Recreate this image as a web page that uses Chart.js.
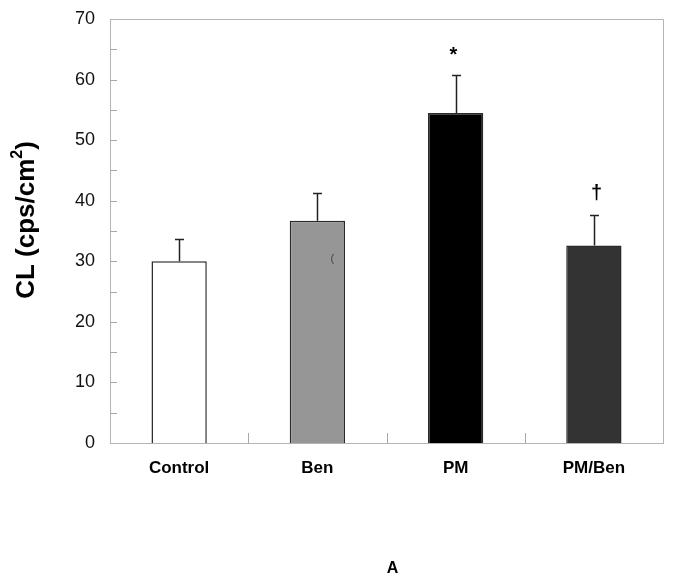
<!DOCTYPE html>
<html>
<head>
<meta charset="utf-8">
<script src="https://cdn.jsdelivr.net/npm/chart.js@4/dist/chart.umd.min.js"></script>
<style>
html,body{margin:0;padding:0;background:#fff;}
#wrap{width:673px;height:585px;position:relative;}
</style>
</head>
<body>
<div id="wrap"><canvas id="c" width="673" height="585"></canvas></div>
<script>
const categories = ['Control', 'Ben', 'PM', 'PM/Ben'];
const means = [30.0, 36.7, 54.5, 32.6];
const errors = [3.6, 4.5, 6.2, 5.1];
const marks = ['', '', '*', '†'];
const barColors = ['#ffffff', '#969696', '#000000', '#333333'];
const yTickValues = [0, 10, 20, 30, 40, 50, 60, 70];
const yTitleMain = 'CL (cps/cm';
const yTitleSup = '2';
const yTitleEnd = ')';
const panelLabel = 'A';
const FONT = '"Liberation Sans", Arial, sans-serif';

const decor = {
  id: 'decor',
  afterDatasetsDraw(chart) {
    const ctx = chart.ctx;
    const x = chart.scales.x, y = chart.scales.y;
    const a = chart.chartArea;
    ctx.save();
    // frame top / right
    ctx.strokeStyle = '#b4b4b4';
    ctx.lineWidth = 1;
    ctx.beginPath();
    ctx.moveTo(a.left, a.top + 0.5); ctx.lineTo(a.right + 0.5, a.top + 0.5);
    ctx.lineTo(a.right + 0.5, a.bottom);
    ctx.stroke();
    // minor/major y ticks inside
    ctx.strokeStyle = '#a8a8a8';
    for (let v = 5; v < 70; v += 5) {
      const py = Math.round(y.getPixelForValue(v)) + 0.5;
      ctx.beginPath(); ctx.moveTo(a.left, py); ctx.lineTo(a.left + 7, py); ctx.stroke();
    }
    // category dividers on x axis
    for (let i = 1; i < categories.length; i++) {
      const px = Math.round((x.getPixelForValue(i - 1) + x.getPixelForValue(i)) / 2) + 0.5;
      ctx.beginPath(); ctx.moveTo(px, a.bottom); ctx.lineTo(px, a.bottom - 10); ctx.stroke();
    }
    // error bars
    ctx.strokeStyle = '#222';
    ctx.lineWidth = 1.5;
    for (let i = 0; i < categories.length; i++) {
      const px = Math.round(x.getPixelForValue(i)) + 0.5;
      const y0 = y.getPixelForValue(means[i]);
      const y1 = Math.round(y.getPixelForValue(means[i] + errors[i])) + 0.5;
      ctx.beginPath();
      ctx.moveTo(px, y0); ctx.lineTo(px, y1);
      ctx.moveTo(px - 4.5, y1); ctx.lineTo(px + 4.5, y1);
      ctx.stroke();
      if (marks[i]) {
        ctx.fillStyle = '#000';
        ctx.font = 'bold 20px ' + FONT;
        ctx.textAlign = 'center';
        ctx.textBaseline = 'middle';
        const off = marks[i] === '*' ? 20 : 22;
        ctx.fillText(marks[i], px - (marks[i] === '*' ? 3 : -2), y1 - off);
      }
    }
    // small stray mark inside Ben bar
    ctx.fillStyle = '#444';
    ctx.font = '11px ' + FONT;
    ctx.textAlign = 'center';
    ctx.textBaseline = 'middle';
    ctx.fillText('(', x.getPixelForValue(1) + 15, y.getPixelForValue(30.4));
    // y axis title, rotated, with superscript
    ctx.save();
    ctx.translate(27, 220);
    ctx.rotate(-Math.PI / 2);
    ctx.fillStyle = '#000';
    ctx.textBaseline = 'middle';
    ctx.textAlign = 'left';
    const big = 'bold 26px ' + FONT, small = 'bold 16px ' + FONT;
    ctx.font = big; const w1 = ctx.measureText(yTitleMain).width; const w3 = ctx.measureText(yTitleEnd).width;
    ctx.font = small; const w2 = ctx.measureText(yTitleSup).width;
    let sx = -(w1 + w2 + w3) / 2;
    ctx.font = big; ctx.fillText(yTitleMain, sx, 0); sx += w1;
    ctx.font = small; ctx.fillText(yTitleSup, sx, -9); sx += w2;
    ctx.font = big; ctx.fillText(yTitleEnd, sx, 0);
    ctx.restore();
    // panel label
    ctx.fillStyle = '#000';
    ctx.font = 'bold 16px ' + FONT;
    ctx.textAlign = 'center';
    ctx.fillText(panelLabel, (a.left + a.right) / 2 + 6, 569);
    ctx.restore();
  }
};

new Chart(document.getElementById('c'), {
  type: 'bar',
  data: {
    labels: categories,
    datasets: [{
      data: means,
      backgroundColor: barColors,
      borderColor: '#2a2a2a',
      borderWidth: 1.5,
      barPercentage: 0.4,
      categoryPercentage: 1.0
    }]
  },
  options: {
    responsive: false,
    animation: false,
    layout: { padding: { top: 19, right: 10, left: 0, bottom: 0 } },
    plugins: { legend: { display: false }, tooltip: { enabled: false } },
    scales: {
      x: {
        grid: { display: false, drawTicks: false },
        border: { display: true, color: '#b4b4b4', width: 1 },
        ticks: {
          padding: 15,
          color: '#000',
          font: { family: FONT, size: 17, weight: 'bold' }
        },
        afterFit(s) { s.height = 142; s.paddingLeft = 0; s.paddingRight = 0; }
      },
      y: {
        min: 0, max: 70,
        afterBuildTicks(s) { s.ticks = yTickValues.map(v => ({ value: v })); },
        grid: { display: false, drawTicks: false },
        border: { display: true, color: '#b4b4b4', width: 1 },
        ticks: {
          padding: 15,
          color: '#111',
          font: { family: FONT, size: 18 }
        },
        afterFit(s) { s.width = 110; s.paddingTop = 0; s.paddingBottom = 0; }
      }
    }
  },
  plugins: [decor]
});
</script>
</body>
</html>
